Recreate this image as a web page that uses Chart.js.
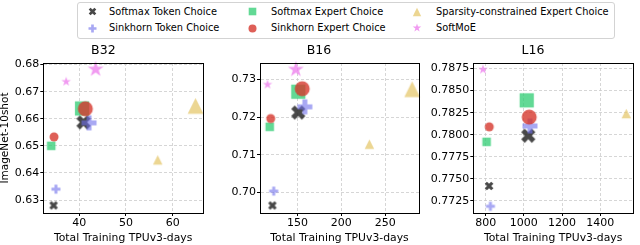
<!DOCTYPE html>
<html>
<head>
<meta charset="utf-8">
<script src="https://cdn.jsdelivr.net/npm/chart.js@4.4.1/dist/chart.umd.min.js"></script>
<style>
  body { margin: 0; width: 640px; height: 245px; background: #fff; position: relative; overflow: hidden; font-family: "DejaVu Sans", sans-serif; }
  canvas.panel { position: absolute; top: 40px; }
  #legend { position: absolute; left: 77px; top: 2px; width: 538px; height: 37px; border: 1px solid #d3d3d3; border-radius: 3px; box-sizing: border-box; }
  .lbl { position: absolute; font-size: 9.8px; line-height: 12px; white-space: nowrap; color: #000; }
  #legend canvas { position: absolute; }
</style>
</head>
<body>
<div id="legend"></div>
<canvas id="c0" class="panel" width="210" height="205" style="left:0px"></canvas>
<canvas id="c1" class="panel" width="211" height="205" style="left:215px"></canvas>
<canvas id="c2" class="panel" width="212" height="205" style="left:428px"></canvas>
<script>
const panelNames = ['B32', 'B16', 'L16'];
const methodNames = ['Softmax Token Choice', 'Sinkhorn Token Choice', 'Softmax Expert Choice',
                     'Sinkhorn Expert Choice', 'Sparsity-constrained Expert Choice', 'SoftMoE'];

// one inner array per panel (B32, B16, L16): [small model, large model]
const softmaxTokenX = [[34.5, 40.9], [121.5, 151], [818, 1023]];
const softmaxTokenY = [[0.628, 0.6587], [0.6966, 0.7212], [0.7742, 0.7799]];
const sinkhornTokenX = [[35.0, 42.1], [123, 158.5], [825, 1032]];
const sinkhornTokenY = [[0.634, 0.6585], [0.7004, 0.7227], [0.7719, 0.7810]];
const softmaxExpertX = [[34.0, 40.6], [118.5, 151], [805, 1015]];
const softmaxExpertY = [[0.650, 0.6638], [0.7174, 0.7267], [0.7792, 0.7839]];
const sinkhornExpertX = [[34.6, 41.3], [119.6, 155.5], [819, 1028]];
const sinkhornExpertY = [[0.6533, 0.6637], [0.7196, 0.7275], [0.7809, 0.7820]];
const sparsityX = [[56.8, 64.9], [232, 280.7], [1536]];
const sparsityY = [[0.6448, 0.6648], [0.7128, 0.7274], [0.7824]];
const softMoEX = [[37.2, 43.5], [116, 148.2], [786]];
const softMoEY = [[0.6737, 0.6783], [0.7286, 0.7326], [0.7874]];

const xTicks = [[40, 50, 60], [150, 200, 250], [800, 1000, 1200, 1400]];
const yTicks = [[0.63, 0.64, 0.65, 0.66, 0.67, 0.68],
                [0.70, 0.71, 0.72, 0.73],
                [0.7725, 0.7750, 0.7775, 0.7800, 0.7825, 0.7850, 0.7875]];
const xRange = [[32.3, 66.5], [107.4, 288.5], [735.5, 1571]];
const yRange = [[0.6252, 0.6806], [0.6946, 0.7343], [0.77114, 0.78813]];

const allX = [softmaxTokenX, sinkhornTokenX, softmaxExpertX, sinkhornExpertX, sparsityX, softMoEX];
const allY = [softmaxTokenY, sinkhornTokenY, softmaxExpertY, sinkhornExpertY, sparsityY, softMoEY];

const shapes = ['x', 'plus', 'square', 'circle', 'triangle', 'star'];
const colors = ['rgba(40,40,40,0.85)', 'rgba(110,110,235,0.6)', 'rgba(46,204,113,0.75)',
                'rgba(214,55,45,0.8)', 'rgba(230,200,110,0.75)', 'rgba(238,130,238,0.8)'];
const shapeScale = { x: 0.95, plus: 1, square: 0.95, circle: 1, triangle: 1.05, star: 1.12 };

const FONT = '"DejaVu Sans", sans-serif';

function marker(shape, d, color) {
  d = d * shapeScale[shape];
  const s = Math.ceil(d) + 3;
  const c = document.createElement('canvas');
  c.width = s; c.height = s;
  const g = c.getContext('2d');
  g.translate(s / 2, s / 2);
  g.fillStyle = color;
  g.beginPath();
  const r = d / 2;
  let pts = null;
  if (shape === 'circle') {
    g.arc(0, 0, r, 0, Math.PI * 2);
  } else if (shape === 'square') {
    g.rect(-r, -r, d, d);
  } else if (shape === 'triangle') {
    pts = [[0, -1], [1, 1], [-1, 1]].map(p => [p[0] * r, p[1] * r]);
  } else if (shape === 'star') {
    pts = [];
    for (let i = 0; i < 10; i++) {
      const a = -Math.PI / 2 + i * Math.PI / 5;
      const rr = i % 2 ? r * 0.382 : r;
      pts.push([rr * Math.cos(a), rr * Math.sin(a)]);
    }
  } else if (shape === 'plus') {
    pts = [[-1, -3], [1, -3], [1, -1], [3, -1], [3, 1], [1, 1], [1, 3], [-1, 3], [-1, 1], [-3, 1], [-3, -1], [-1, -1]]
      .map(p => [p[0] * d / 6, p[1] * d / 6]);
  } else if (shape === 'x') {
    pts = [[-1, -2], [0, -1], [1, -2], [2, -1], [1, 0], [2, 1], [1, 2], [0, 1], [-1, 2], [-2, 1], [-1, 0], [-2, -1]]
      .map(p => [p[0] * d / 4, p[1] * d / 4]);
  }
  if (pts) {
    pts.forEach((p, i) => i ? g.lineTo(p[0], p[1]) : g.moveTo(p[0], p[1]));
    g.closePath();
  }
  g.fill();
  return c;
}

const frame = {
  id: 'frame',
  afterDraw(chart) {
    const { ctx, chartArea: a } = chart;
    ctx.save();
    ctx.strokeStyle = '#000';
    ctx.lineWidth = 1;
    ctx.strokeRect(Math.round(a.left) + 0.5, Math.round(a.top) + 0.5,
                   Math.round(a.right - a.left), Math.round(a.bottom - a.top));
    ctx.restore();
  }
};

const yWidth = [43.3, 45, 45.3];
const rightPad = [3.3, 3, 2];
const yDecimals = [2, 2, 4];

panelNames.forEach((name, p) => {
  const datasets = methodNames.map((m, k) => ({
    label: m,
    data: allX[k][p].map((x, i) => ({ x: x, y: allY[k][p][i] })),
    pointStyle: allX[k][p].map((x, i) => marker(shapes[k], i === 0 ? 9 : 15, colors[k])),
    pointRadius: 6,
    order: 5 - k,
    clip: false
  }));

  const gridOpts = { color: '#cccccc', lineWidth: 0.8, tickColor: '#000', tickLength: 3, tickWidth: 1 };
  const borderOpts = { display: true, color: '#000', width: 1, dash: [3, 2] };

  new Chart(document.getElementById('c' + p), {
    type: 'scatter',
    data: { datasets },
    plugins: [frame],
    options: {
      responsive: false,
      animation: false,
      events: [],
      layout: { padding: { left: 0, right: rightPad[p], top: 0, bottom: 0 } },
      plugins: {
        legend: { display: false },
        tooltip: { enabled: false },
        title: {
          display: true, text: name, color: '#000',
          font: { family: FONT, size: 12.5, weight: 'normal' },
          padding: { top: 3, bottom: 5 }
        }
      },
      scales: {
        x: {
          type: 'linear', position: 'bottom',
          min: xRange[p][0], max: xRange[p][1],
          afterBuildTicks: s => { s.ticks = xTicks[p].map(v => ({ value: v })); },
          afterFit: s => { s.height = 32; },
          ticks: { color: '#000', font: { family: FONT, size: 11 }, padding: 1, maxRotation: 0, callback: v => String(v) },
          grid: gridOpts,
          border: borderOpts,
          title: { display: true, text: 'Total Training TPUv3-days', color: '#000', font: { family: FONT, size: 10.8 }, padding: 0 }
        },
        y: {
          type: 'linear', position: 'left',
          min: yRange[p][0], max: yRange[p][1],
          afterBuildTicks: s => { s.ticks = yTicks[p].map(v => ({ value: v })); },
          afterFit: s => { s.width = yWidth[p]; },
          ticks: { color: '#000', font: { family: FONT, size: 11 }, padding: 1, callback: v => v.toFixed(yDecimals[p]) },
          grid: gridOpts,
          border: borderOpts,
          title: { display: p === 0, text: 'ImageNet-10shot', color: '#000', font: { family: FONT, size: 10.5, lineHeight: 1 }, padding: 0 }
        }
      }
    }
  });
});

// legend: three columns, two rows (column-major order as in the reference)
const legend = document.getElementById('legend');
const iconX = [14, 174, 339];
const textX = [31, 193, 358];
const rowMid = [8.5, 25];
methodNames.forEach((m, k) => {
  const col = Math.floor(k / 2), row = k % 2;
  const icon = marker(shapes[k], 8, colors[k]);
  icon.style.left = (iconX[col] - icon.width / 2) + 'px';
  icon.style.top = (rowMid[row] - icon.height / 2) + 'px';
  legend.appendChild(icon);
  const span = document.createElement('div');
  span.className = 'lbl';
  span.textContent = m;
  span.style.left = textX[col] + 'px';
  span.style.top = (rowMid[row] - 6) + 'px';
  legend.appendChild(span);
});
</script>
</body>
</html>
